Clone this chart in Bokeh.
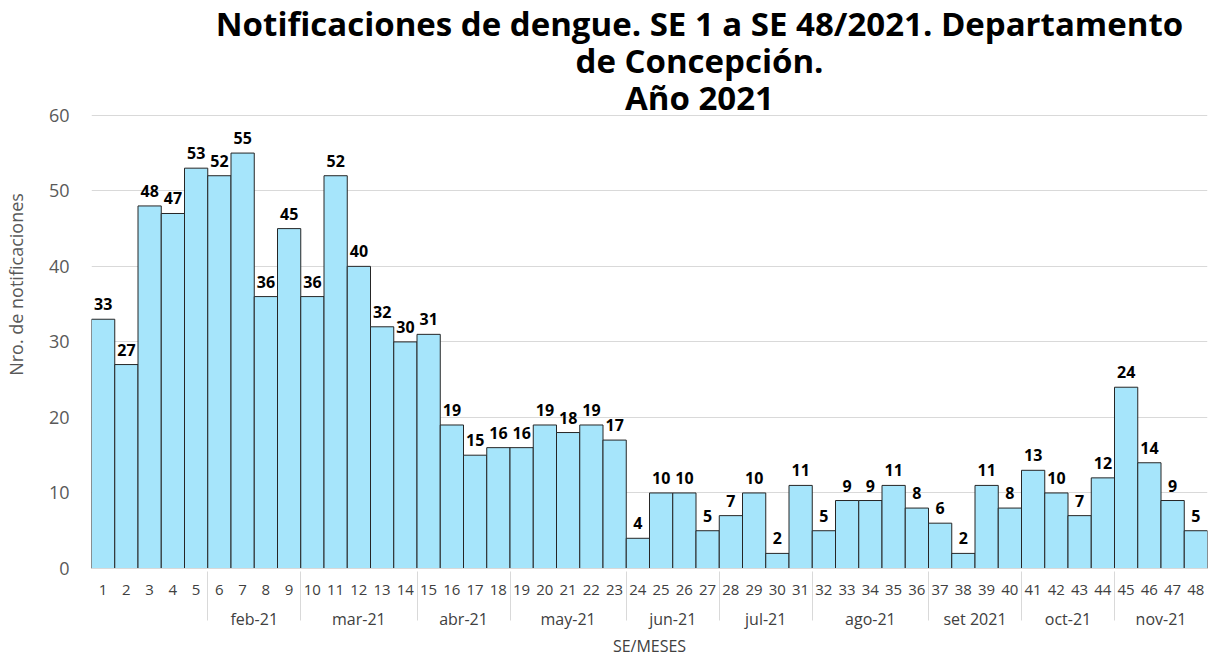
from bokeh.plotting import figure
from bokeh.models import FactorRange, Range1d, FixedTicker, ColumnDataSource, Label
from bokeh.core.properties import value
from bokeh.embed import file_html
from bokeh.resources import INLINE

weeks = [str(i) for i in range(1, 49)]
months = [" "] * 5 + ["feb-21"] * 4 + ["mar-21"] * 5 + ["abr-21"] * 4 + ["may-21"] * 5 + \
         ["jun-21"] * 4 + ["jul-21"] * 4 + ["ago-21"] * 5 + ["set 2021"] * 4 + ["oct-21"] * 4 + ["nov-21"] * 4
counts = [33, 27, 48, 47, 53, 52, 55, 36, 45, 36, 52, 40, 32, 30, 31, 19, 15, 16, 16, 19, 18, 19, 17,
          4, 10, 10, 5, 7, 10, 2, 11, 5, 9, 9, 11, 8, 6, 2, 11, 8, 13, 10, 7, 12, 24, 14, 9, 5]
y_ticks = [0, 10, 20, 30, 40, 50, 60]

title_lines = ["Notificaciones de dengue. SE 1 a SE 48/2021. Departamento",
               "de Concepción.",
               "Año 2021"]

factors = list(zip(months, weeks))
src = ColumnDataSource(dict(x=factors, y=counts, lbl=[str(c) for c in counts]))

FONT = "Open Sans"

# layout: the plot frame reaches the top of the canvas so the title can sit inside it;
# the value axis maximum (60) sits 115 px below the top.
FRAME_H = 569
AXIS_TOP_PX = 115
y_max = 60
y_end = y_max * FRAME_H / (FRAME_H - AXIS_TOP_PX)

p = figure(
    width=1213, height=659,
    x_range=FactorRange(*factors, group_padding=0, factor_padding=0, range_padding=0),
    y_range=Range1d(0, y_end),
    output_backend="svg", toolbar_location=None,
    min_border_left=90, min_border_right=6, min_border_bottom=90, min_border_top=0,
)
p.title = None
p.outline_line_color = None
p.background_fill_color = "white"
p.border_fill_color = "white"

# title lines, placed in screen units relative to the plot frame
for i, line in enumerate(title_lines):
    p.add_layout(Label(x=608, y=545 - 37 * i, x_units="screen", y_units="screen",
                       text=line, text_align="center", text_baseline="alphabetic",
                       text_font=FONT, text_font_style="bold", text_font_size="33px",
                       text_color="black"))

p.vbar(x="x", top="y", width=1.0, source=src, fill_color="#A6E5FB",
       line_color="#262626", line_width=1)

p.text(x="x", y="y", text="lbl", source=src, text_align="center", text_baseline="bottom",
       y_offset=-9, text_font=value(FONT), text_font_style="bold", text_font_size="16px",
       text_color="black")

# y axis
p.yaxis.ticker = FixedTicker(ticks=y_ticks)
p.yaxis.axis_line_color = None
p.yaxis.major_tick_line_color = None
p.yaxis.minor_tick_line_color = None
p.yaxis.major_label_text_font = FONT
p.yaxis.major_label_text_font_size = "18px"
p.yaxis.major_label_text_color = "#595959"
p.yaxis.major_label_standoff = 16
p.yaxis.axis_label = "Nro. de notificaciones"
p.yaxis.axis_label_text_font = FONT
p.yaxis.axis_label_text_font_size = "18px"
p.yaxis.axis_label_text_font_style = "normal"
p.yaxis.axis_label_text_color = "#595959"
p.yaxis.axis_label_standoff = 18
p.ygrid.grid_line_color = "#D9D9D9"
p.ygrid.ticker = FixedTicker(ticks=y_ticks)

# x axis
p.xgrid.grid_line_color = None
xa = p.xaxis[0]
xa.axis_line_color = "#D9D9D9"
xa.major_tick_line_color = None
xa.minor_tick_line_color = None
xa.major_label_text_font = FONT
xa.major_label_text_font_size = "15px"
xa.major_label_text_color = "#404040"
xa.major_label_standoff = 10
xa.major_label_orientation = "horizontal"
xa.group_text_font = FONT
xa.group_text_font_size = "16px"
xa.group_text_font_style = "normal"
xa.group_text_color = "#404040"
xa.group_label_orientation = "horizontal"
xa.separator_line_color = "#D9D9D9"
xa.separator_line_width = 1
xa.axis_label = "SE/MESES"
xa.axis_label_text_font = FONT
xa.axis_label_text_font_size = "16px"
xa.axis_label_text_font_style = "normal"
xa.axis_label_text_color = "#404040"
xa.axis_label_standoff = 2

open("out.html", "w").write(file_html(p, INLINE))
